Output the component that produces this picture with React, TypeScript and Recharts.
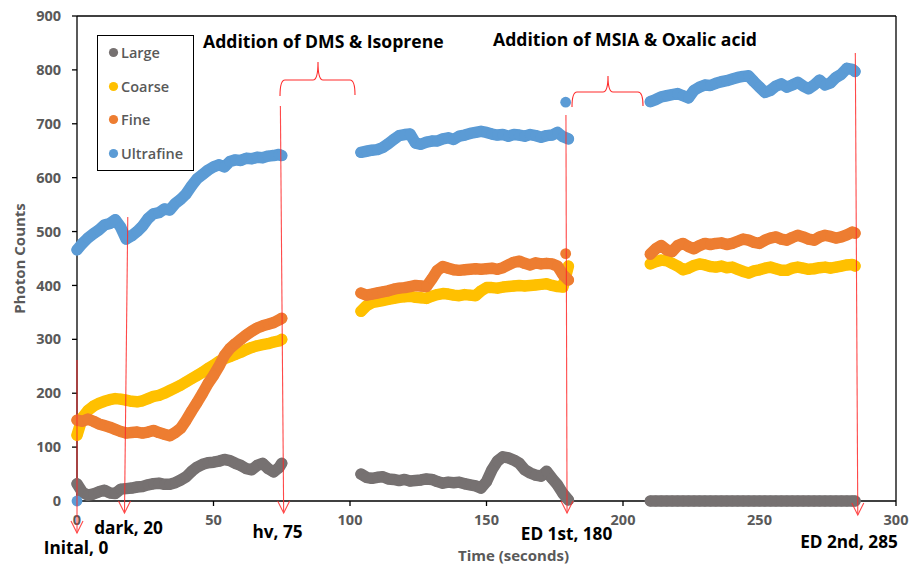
import React from 'react';
import { ScatterChart, Scatter, XAxis, YAxis, Legend, ReferenceLine } from 'recharts';

// sampling times (seconds) for the three measurement windows
const seg1Times = [0, 2, 4, 6, 8, 10, 12, 14, 16, 18, 20, 22, 24, 26, 28, 30, 32, 34, 36, 38, 40, 42, 44, 46, 48, 50, 52, 54, 56, 58, 60, 62, 64, 66, 68, 70, 72, 74, 75];
const seg2Times = [104, 106, 108, 110, 112, 114, 116, 118, 120, 122, 124, 126, 128, 130, 132, 134, 136, 138, 140, 142, 144, 146, 148, 150, 152, 154, 156, 158, 160, 162, 164, 166, 168, 170, 172, 174, 176, 178, 180];
const seg3Times = [210, 212, 214, 216, 218, 220, 222, 224, 226, 228, 230, 232, 234, 236, 238, 240, 242, 244, 246, 248, 250, 252, 254, 256, 258, 260, 262, 264, 266, 268, 270, 272, 274, 276, 278, 280, 282, 284, 285];

const largeSeg1 = [32, 16, 11, 13, 17, 20, 15, 14, 22, 23, 24, 26, 27, 30, 32, 33, 31, 31, 34, 39, 45, 55, 63, 68, 71, 72, 74, 77, 75, 70, 66, 60, 58, 66, 70, 60, 54, 62, 70];
const largeSeg2 = [50, 44, 42, 44, 45, 41, 40, 38, 40, 37, 38, 39, 41, 40, 36, 33, 35, 34, 35, 32, 30, 28, 24, 36, 58, 74, 82, 80, 76, 70, 58, 52, 48, 46, 55, 42, 30, 14, 2];
const largeSeg3 = [0, 0, 0, 0, 0, 0, 0, 0, 0, 0, 0, 0, 0, 0, 0, 0, 0, 0, 0, 0, 0, 0, 0, 0, 0, 0, 0, 0, 0, 0, 0, 0, 0, 0, 0, 0, 0, 0, 0];

const coarseSeg1 = [122, 155, 168, 176, 181, 185, 188, 190, 189, 187, 185, 184, 186, 190, 194, 196, 200, 205, 210, 215, 221, 227, 233, 239, 246, 252, 259, 264, 268, 272, 276, 281, 285, 288, 290, 292, 295, 297, 300];
const coarseSeg2 = [352, 362, 368, 370, 372, 374, 376, 378, 379, 380, 378, 377, 376, 380, 383, 385, 384, 382, 381, 383, 382, 381, 390, 396, 396, 395, 397, 398, 399, 400, 399, 400, 401, 402, 403, 400, 398, 397, 436];
const coarseSeg3 = [440, 444, 447, 446, 441, 436, 429, 432, 437, 440, 438, 435, 434, 436, 433, 434, 430, 426, 423, 427, 429, 432, 434, 431, 428, 428, 432, 434, 432, 430, 431, 433, 434, 432, 434, 436, 438, 439, 436];

const fineSeg1 = [150, 148, 152, 148, 143, 140, 137, 133, 129, 126, 127, 128, 126, 128, 131, 127, 124, 121, 127, 135, 150, 167, 183, 200, 218, 233, 250, 270, 283, 292, 300, 308, 315, 321, 325, 328, 331, 336, 339];
const fineSeg2 = [386, 382, 384, 386, 388, 390, 393, 395, 396, 398, 400, 399, 398, 412, 428, 435, 432, 429, 428, 429, 430, 431, 430, 431, 432, 430, 433, 438, 443, 445, 441, 438, 442, 440, 441, 440, 436, 420, 410];
const fineSeg3 = [458, 468, 474, 466, 463, 474, 478, 472, 468, 474, 478, 476, 478, 479, 476, 478, 482, 486, 484, 480, 478, 484, 488, 490, 486, 484, 489, 493, 490, 486, 484, 490, 493, 491, 488, 490, 494, 499, 497];
const fineExtraTimes = [179];
const fineExtraValues = [459];

const ultrafineSeg1 = [466, 478, 488, 496, 503, 512, 515, 522, 508, 486, 492, 500, 510, 524, 533, 535, 542, 540, 552, 560, 570, 585, 598, 606, 614, 620, 624, 620, 630, 633, 632, 636, 635, 638, 637, 640, 641, 643, 641];
const ultrafineSeg2 = [647, 649, 651, 652, 656, 663, 671, 678, 680, 681, 664, 662, 666, 668, 668, 672, 674, 671, 677, 679, 682, 684, 686, 684, 681, 679, 680, 677, 680, 679, 677, 680, 678, 675, 678, 679, 684, 676, 672];
const ultrafineSeg3 = [741, 745, 750, 752, 754, 756, 752, 748, 762, 768, 772, 771, 775, 778, 780, 783, 786, 788, 789, 778, 768, 758, 762, 770, 774, 768, 772, 777, 770, 765, 772, 781, 772, 776, 786, 792, 803, 801, 797];
const ultrafineExtraTimes = [0, 179];
const ultrafineExtraValues = [0, 740];

const xTicks = [0, 50, 100, 150, 200, 250, 300];
const yTicks = [0, 100, 200, 300, 400, 500, 600, 700, 800, 900];

const zip = (times: number[], values: number[]) => times.map((t, i) => ({ t, v: values[i] }));

const SERIES = [
  {
    name: 'Large',
    color: '#767171',
    segments: [zip(seg1Times, largeSeg1), zip(seg2Times, largeSeg2), zip(seg3Times, largeSeg3)],
    extra: [] as { t: number; v: number }[],
  },
  {
    name: 'Coarse',
    color: '#FFC000',
    segments: [zip(seg1Times, coarseSeg1), zip(seg2Times, coarseSeg2), zip(seg3Times, coarseSeg3)],
    extra: [] as { t: number; v: number }[],
  },
  {
    name: 'Fine',
    color: '#ED7D31',
    segments: [zip(seg1Times, fineSeg1), zip(seg2Times, fineSeg2), zip(seg3Times, fineSeg3)],
    extra: zip(fineExtraTimes, fineExtraValues),
  },
  {
    name: 'Ultrafine',
    color: '#5B9BD5',
    segments: [zip(seg1Times, ultrafineSeg1), zip(seg2Times, ultrafineSeg2), zip(seg3Times, ultrafineSeg3)],
    extra: zip(ultrafineExtraTimes, ultrafineExtraValues),
  },
];

const FONT = '"Open Sans", sans-serif';
const GREY = '#595959';
const RED = '#ff2a2a';

// plot box, used only to place the annotation overlay
const PLOT = { left: 77, top: 16, width: 819, height: 485 };
const xPx = (t: number) => PLOT.left + (t / 300) * PLOT.width;

const ARROWS = [
  { t1: 0, y1: 360, t2: 0, y2: 533 },
  { t1: 18.6, y1: 217, t2: 17.4, y2: 513 },
  { t1: 74.5, y1: 106, t2: 75.7, y2: 513 },
  { t1: 179.1, y1: 115, t2: 179.5, y2: 513 },
  { t1: 285.1, y1: 53, t2: 286, y2: 515 },
];

const EVENT_LABELS = [
  { text: 'Inital, 0', x: 76, y: 547 },
  { text: 'dark, 20', x: 128.5, y: 527 },
  { text: 'hv, 75', x: 277.5, y: 531 },
  { text: 'ED 1st, 180', x: 566.5, y: 533 },
  { text: 'ED 2nd, 285', x: 849, y: 541 },
];

const dot = (color: string) => (props: any) => (
  <circle cx={props.cx} cy={props.cy} r={5.4} fill={color} />
);

function LegendBox() {
  return (
    <div
      style={{
        boxSizing: 'border-box',
        width: 97,
        height: 136,
        border: '1.3px solid #000',
        background: '#fff',
        fontFamily: FONT,
        fontSize: 14.5,
        fontWeight: 600,
        color: GREY,
      }}
    >
      {SERIES.map((s) => (
        <div key={s.name} style={{ height: 33.6, display: 'flex', alignItems: 'center', paddingLeft: 10 }}>
          <svg width={11} height={11} style={{ marginRight: 2 }}>
            <circle cx={5.5} cy={5.5} r={4.6} fill={s.color} />
          </svg>
          <span>{s.name}</span>
        </div>
      ))}
    </div>
  );
}

export default function App() {
  const tickStyle = { fill: GREY, fontSize: 14.5, fontWeight: 700, fontFamily: FONT };
  return (
    <div style={{ position: 'absolute', left: 0, top: 0, width: 912, height: 567, background: '#fff' }}>
      <ScatterChart width={912} height={567} margin={{ top: 16, right: 16, bottom: 36, left: 0 }}>
        <XAxis
          type="number"
          dataKey="t"
          domain={[0, 300]}
          ticks={xTicks}
          height={30}
          stroke="#000"
          strokeWidth={1.3}
          tickSize={5}
          tickMargin={9}
          tick={tickStyle}
          label={{
            value: 'Time (seconds)',
            position: 'bottom',
            offset: 19,
            dx: 27,
            style: { fill: GREY, fontSize: 15, fontWeight: 700, fontFamily: FONT },
          }}
        />
        <YAxis
          type="number"
          dataKey="v"
          domain={[0, 900]}
          ticks={yTicks}
          width={77}
          stroke="#000"
          strokeWidth={1.3}
          tickSize={5}
          tickMargin={11}
          tick={tickStyle}
          label={{
            value: 'Photon Counts',
            angle: -90,
            position: 'insideLeft',
            offset: 20,
            style: { textAnchor: 'middle', fill: GREY, fontSize: 15, fontWeight: 700, fontFamily: FONT },
          }}
        />
        <ReferenceLine y={900} stroke="#000" strokeWidth={1.3} />
        <ReferenceLine x={300} stroke="#000" strokeWidth={1.3} />
        <Legend
          layout="vertical"
          align="center"
          verticalAlign="middle"
          wrapperStyle={{ left: 97, top: 35, width: 97, height: 136 }}
          content={<LegendBox />}
        />
        {SERIES.flatMap((s) => [
          ...s.segments.map((seg, i) => (
            <Scatter
              key={`${s.name}-${i}`}
              name={s.name}
              data={seg}
              fill={s.color}
              line={{ stroke: s.color, strokeWidth: 11.5, strokeLinejoin: 'round', strokeLinecap: 'round' }}
              lineType="joint"
              shape={dot(s.color)}
              legendType="none"
              isAnimationActive={false}
            />
          )),
          <Scatter
            key={`${s.name}-extra`}
            name={s.name}
            data={s.extra}
            fill={s.color}
            shape={dot(s.color)}
            legendType="none"
            isAnimationActive={false}
          />,
        ])}
      </ScatterChart>

      <svg
        width={912}
        height={567}
        style={{ position: 'absolute', left: 0, top: 0, pointerEvents: 'none' }}
        fontFamily={FONT}
      >
        {ARROWS.map((a, i) => {
          const x1 = xPx(a.t1);
          const x2 = xPx(a.t2);
          return (
            <g key={i} stroke={RED} strokeWidth={1.1} fill="none" opacity={0.85}>
              <line x1={x1} y1={a.y1} x2={x2} y2={a.y2} />
              <polyline points={`${x2 - 6},${a.y2 - 12} ${x2},${a.y2} ${x2 + 6},${a.y2 - 12}`} />
            </g>
          );
        })}

        {/* braces over the addition windows */}
        <path
          d="M280,96 Q280,80 285,80 L313,80 Q318,80 318,62 Q318,80 323,80 L350,80 Q355,80 355,95"
          stroke={RED}
          strokeWidth={1.1}
          fill="none"
        />
        <path
          d="M572,107 Q572,92 577,92 L603,92 Q608,92 608,76 Q608,92 613,92 L638,92 Q643,92 643,106"
          stroke={RED}
          strokeWidth={1.1}
          fill="none"
        />

        <text x={203} y={41} dominantBaseline="central" fontSize={17.6} fontWeight={700} fill="#000">
          Addition of DMS &amp; Isoprene
        </text>
        <text x={493} y={39} dominantBaseline="central" fontSize={17.6} fontWeight={700} fill="#000">
          Addition of MSIA &amp; Oxalic acid
        </text>

        {EVENT_LABELS.map((l) => (
          <text
            key={l.text}
            x={l.x}
            y={l.y}
            textAnchor="middle"
            dominantBaseline="central"
            fontSize={17.2}
            fontWeight={700}
            fill="#000"
          >
            {l.text}
          </text>
        ))}
      </svg>
    </div>
  );
}
